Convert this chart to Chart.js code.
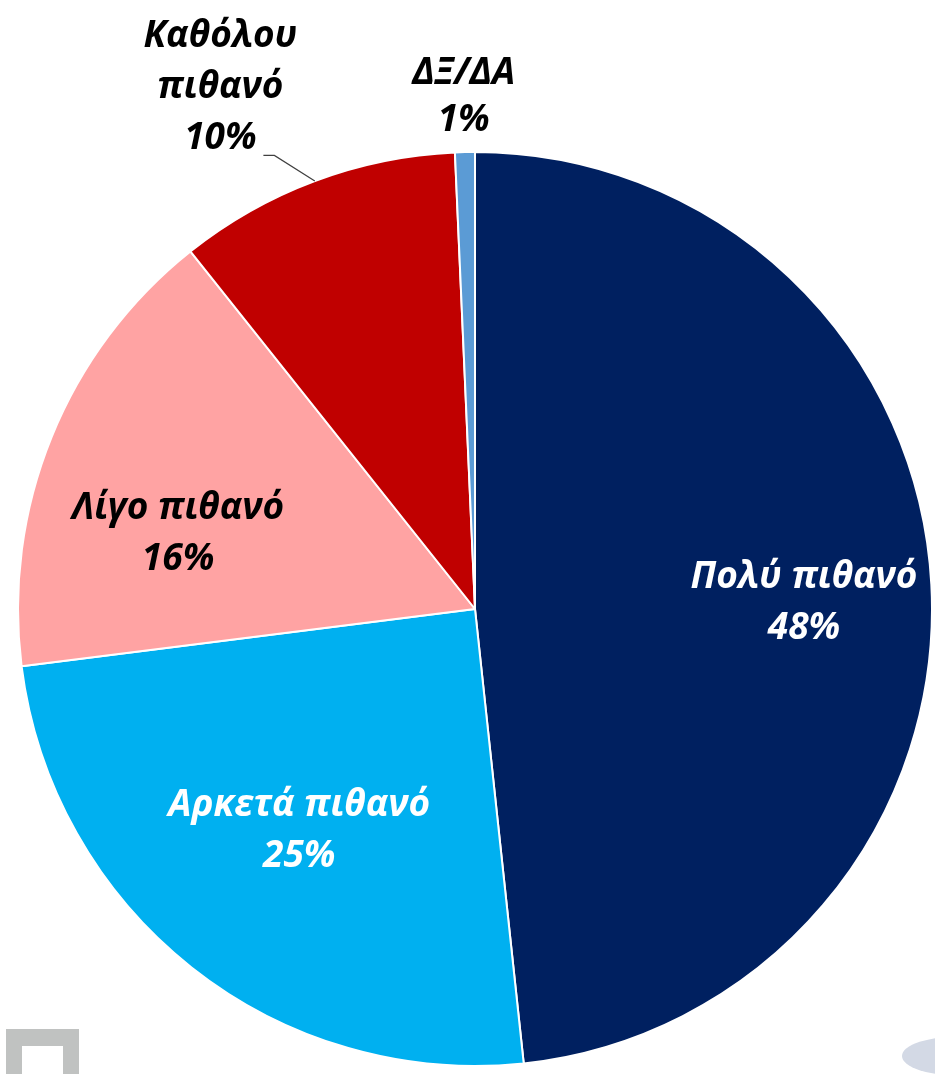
<!DOCTYPE html>
<html>
<head>
<meta charset="utf-8">
<script src="https://cdn.jsdelivr.net/npm/chart.js"></script>
<style>
  html, body { margin: 0; padding: 0; background: #fff; }
  #wrap { position: relative; width: 935px; height: 1074px; overflow: hidden; }
  #logo { position: absolute; left: 6px; top: 1029px; width: 73px; height: 60px; background: #c0c2c1; }
  #logo div { position: absolute; left: 16px; top: 17px; width: 41px; height: 60px; background: #fff; }
  #blob { position: absolute; left: 902px; top: 1036px; width: 120px; height: 40px; border-radius: 50%; background: #d3d9e5; }
  canvas { position: absolute; left: 0; top: 0; }
</style>
</head>
<body>
<div id="wrap">
  <div id="logo"><div></div></div>
  <div id="blob"></div>
  <canvas id="myChart" width="935" height="1074"></canvas>
</div>
<script>
// answers, clockwise from 12 o'clock
const categories = [['Πολύ πιθανό'], ['Αρκετά πιθανό'], ['Λίγο πιθανό'], ['Καθόλου', 'πιθανό'], ['ΔΞ/ΔΑ']];
const shares = [48.3, 24.7, 16.3, 10.0, 0.7];
const colours = ['#002060', '#00b0f0', '#ffa3a3', '#c00000', '#5b9bd5'];

// label placement: fraction of the radius, angle shift in degrees, text colour
const labelRadius = [0.72, 0.62, 0.67, 1.27, 1.12];
const labelShift = [2, 0, -8, -5.5, 0];
const labelColour = ['#fff', '#fff', '#000', '#000', '#000'];

const FONT = 'italic bold 37px "Open Sans", "Noto Sans", sans-serif';

const pieLabels = {
  id: 'pieLabels',
  afterDatasetsDraw(chart) {
    const c = chart.ctx;
    const arcs = chart.getDatasetMeta(0).data;
    c.save();
    c.font = FONT;
    c.textAlign = 'center';
    c.textBaseline = 'middle';
    arcs.forEach((arc, i) => {
      const p = arc.getProps(['x', 'y', 'startAngle', 'endAngle', 'outerRadius'], true);
      const mid = (p.startAngle + p.endAngle) / 2;
      const a = mid + labelShift[i] * Math.PI / 180;
      const r = p.outerRadius * labelRadius[i];
      const cx = p.x + Math.cos(a) * r;
      const cy = p.y + Math.sin(a) * r;
      const lines = categories[i].concat([Math.round(shares[i]) + '%']);
      const lh = i === 4 ? 47 : 51;
      const y0 = cy - (lines.length - 1) * lh / 2;
      c.fillStyle = labelColour[i];
      lines.forEach((t, k) => c.fillText(t, cx, y0 + k * lh));
      if (i === 3) {
        // leader line from the slice edge to the label
        const ex = p.x + Math.cos(mid) * p.outerRadius;
        const ey = p.y + Math.sin(mid) * p.outerRadius;
        c.strokeStyle = '#404040';
        c.lineWidth = 1.2;
        c.beginPath();
        c.moveTo(ex, ey);
        c.lineTo(cx + 54, y0 + 2 * lh + 17);
        c.lineTo(cx + 43, y0 + 2 * lh + 17);
        c.stroke();
      }
    });
    c.restore();
  }
};

const ctx = document.getElementById('myChart');

new Chart(ctx, {
  type: 'pie',
  data: {
    labels: categories,
    datasets: [{
      data: shares,
      backgroundColor: colours,
      borderColor: '#fff',
      borderWidth: 2
    }]
  },
  options: {
    responsive: false,
    animation: false,
    layout: { padding: { left: 17, right: 2, top: 151, bottom: 7 } },
    plugins: {
      legend: { display: false },
      tooltip: { enabled: false }
    }
  },
  plugins: [pieLabels]
});
</script>
</body>
</html>
